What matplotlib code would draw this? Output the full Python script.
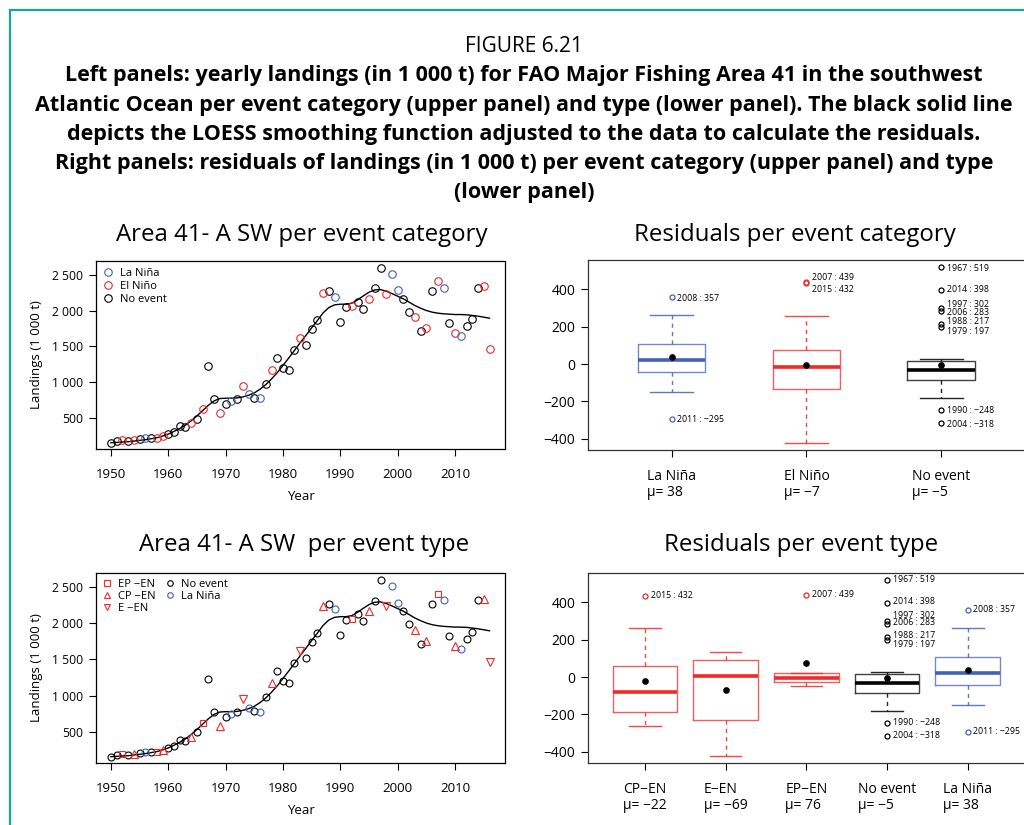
import matplotlib
matplotlib.use("Agg")
import matplotlib.pyplot as plt
from matplotlib.patches import Rectangle
from matplotlib.lines import Line2D

# ---- data (landings in 1 000 t) ----
years = list(range(1950, 2017))
landings = [148, 176, 195, 180, 195, 208, 218, 227, 218, 255,
            283, 306, 384, 380, 430, 495, 625, 1222, 773, 574,
            699, 745, 769, 954, 833, 782, 778, 981, 1171, 1343,
            1204, 1176, 1449, 1616, 1518, 1745, 1861, 2241, 2268, 2190,
            1838, 2046, 2060, 2120, 2028, 2162, 2310, 2597, 2231, 2505,
            2282, 2162, 1981, 1907, 1713, 1750, 2268, 2407, 2319, 1819,
            1685, 1648, 1778, 1875, 2319, 2338, 1467]
# LOESS curve read at each year
loess_fit = [157, 162, 167, 171, 180, 190, 199, 213, 227, 250,
             278, 315, 356, 403, 463, 532, 606, 680, 741, 773,
             778, 778, 782, 796, 819, 852, 903, 967, 1046, 1134,
             1236, 1338, 1444, 1551, 1653, 1759, 1861, 1968, 2042, 2079,
             2088, 2088, 2102, 2148, 2204, 2255, 2287, 2292, 2269, 2236,
             2199, 2162, 2116, 2069, 2032, 2000, 1977, 1963, 1954, 1949,
             1944, 1944, 1940, 1931, 1921, 1907, 1893]

la_nina_years = [1956, 1971, 1974, 1976, 1989, 1999, 2000, 2008, 2011]
ep_en_years = [1952, 1958, 1966, 1992, 2007]
cp_en_years = [1954, 1959, 1964, 1969, 1978, 1987, 1995, 2003, 2005, 2010, 2015]
e_en_years = [1973, 1983, 1998, 2016]
el_nino_years = sorted(ep_en_years + cp_en_years + e_en_years)

# residual box statistics per category
cat_names = ["La Niña", "El Niño", "No event"]
cat_mean = [38, -7, -5]
cat_med = [20, -18, -30]
cat_q1 = [-41, -133, -87]
cat_q3 = [108, 74, 14]
cat_lo = [-149, -422, -181]
cat_hi = [261, 259, 25]
cat_out = [[(2008, 357), (2011, -295)],
           [(2007, 439), (2015, 432)],
           [(1967, 519), (2014, 398), (1997, 302), (2006, 283), (1988, 217),
            (1979, 197), (1990, -248), (2004, -318)]]

type_names = ["CP\u2212EN", "E\u2212EN", "EP\u2212EN", "No event", "La Niña"]
type_mean = [-22, -69, 76, -5, 38]
type_med = [-82, 5, -7, -30, 20]
type_q1 = [-185, -229, -25, -87, -41]
type_q3 = [60, 91, 20, 14, 108]
type_lo = [-260, -420, -46, -181, -149]
type_hi = [261, 135, 20, 25, 261]
type_out = [[(2015, 432)], [], [(2007, 439)],
            [(1967, 519), (2014, 398), (1997, 302), (2006, 283), (1988, 217),
             (1979, 197), (1990, -248), (2004, -318)],
            [(2008, 357), (2011, -295)]]

# where the outlier labels sit (avoid overlaps, as in the original)
cat_label_y = {2008: 350, 2011: -298, 2007: 466, 2015: 399, 1967: 514, 2014: 399,
               1997: 317, 2006: 276, 1988: 228, 1979: 174, 1990: -250, 2004: -326}
type_label_y = {2015: 435, 2007: 444, 1967: 524, 2014: 402, 1997: 331, 2006: 292,
                1988: 220, 1979: 174, 1990: -245, 2004: -311, 2008: 364, 2011: -293}

BLUE = "#4262b5"
RED = "#ee2a2a"
BLACK = "#000000"

W, H = 1024, 825
fig = plt.figure(figsize=(W / 100, H / 100), dpi=100)
plt.rcParams["font.family"] = ["Open Sans", "DejaVu Sans"]


def px(x0, y0, x1, y1):
    return [x0 / W, 1 - y1 / H, (x1 - x0) / W, (y1 - y0) / H]


# teal frame
fig.add_artist(Rectangle((10 / W, -0.1), 1.2, 1 - 10 / H + 0.1, transform=fig.transFigure,
                         fill=False, edgecolor="#1aa59c", linewidth=1.6))

fig.text(524 / W, 1 - 46 / H, "FIGURE 6.21", ha="center", va="center", fontsize=15)
caption = ["Left panels: yearly landings (in 1 000 t) for FAO Major Fishing Area 41 in the southwest",
           "Atlantic Ocean per event category (upper panel) and type (lower panel). The black solid line",
           "depicts the LOESS smoothing function adjusted to the data to calculate the residuals.",
           "Right panels: residuals of landings (in 1 000 t) per event category (upper panel) and type",
           "(lower panel)"]
for i, line in enumerate(caption):
    fig.text(524 / W, 1 - (76 + 29.2 * i) / H, line, ha="center", va="center",
             fontsize=15.5, fontweight="bold")

panel_titles = [("Area 41- A SW per event category", 302, 235),
                ("Residuals per event category", 795, 235),
                ("Area 41- A SW  per event type", 304, 545),
                ("Residuals per event type", 801, 545)]
for t, x, y in panel_titles:
    fig.text(x / W, 1 - y / H, t, ha="center", va="center", fontsize=17.3)


def landings_axes(ax):
    ax.plot(years, loess_fit, color="k", linewidth=1.0, zorder=1)
    ax.set_xlim(1947.4, 2018.7)
    ax.set_ylim(70, 2690)
    ax.set_xticks(range(1950, 2011, 10))
    ax.set_yticks([500, 1000, 1500, 2000, 2500])
    ax.set_yticklabels(["500", "1 000", "1 500", "2 000", "2 500"])
    ax.tick_params(labelsize=8.7, length=5, width=0.8, pad=4)
    ax.tick_params(axis="x", pad=9, labelsize=9.5)
    ax.set_xlabel("Year", fontsize=9.5, labelpad=6)
    ax.set_ylabel("Landings (1 000 t)", fontsize=9.5, labelpad=7)
    for s in ax.spines.values():
        s.set_linewidth(0.9)


def pick(yrs):
    return [y for y in years if y in yrs], [landings[years.index(y)] for y in years if y in yrs]


no_event_years = [y for y in years if y not in la_nina_years and y not in el_nino_years]

# upper left: per event category
ax1 = fig.add_axes(px(96, 261, 505, 449))
landings_axes(ax1)
for yrs, c in [(no_event_years, BLACK), (el_nino_years, RED), (la_nina_years, BLUE)]:
    x, y = pick(yrs)
    ax1.plot(x, y, "o", mfc="none", mec=c, ms=5.4, mew=0.8, linestyle="none", zorder=2)
h1 = [Line2D([], [], marker="o", mfc="none", mec=c, ms=5.4, mew=0.8, linestyle="none")
      for c in (BLUE, RED, BLACK)]
ax1.legend(h1, ["La Niña", "El Niño", "No event"], loc="upper left", frameon=False,
           fontsize=8, handletextpad=0.6, labelspacing=0.2, borderaxespad=0.3,
           handlelength=1.0, borderpad=0.3)

# lower left: per event type
ax3 = fig.add_axes(px(96, 573, 505, 763))
landings_axes(ax3)
x, y = pick(no_event_years)
ax3.plot(x, y, "o", mfc="none", mec=BLACK, ms=5.0, mew=0.8, linestyle="none")
x, y = pick(la_nina_years)
ax3.plot(x, y, "o", mfc="none", mec=BLUE, ms=5.0, mew=0.8, linestyle="none")
for yrs, m, ms in [(ep_en_years, "s", 4.3), (cp_en_years, "^", 5.6), (e_en_years, "v", 5.6)]:
    x, y = pick(yrs)
    ax3.plot(x, y, m, mfc="none", mec=RED, ms=ms, mew=0.8, linestyle="none")
h3 = [Line2D([], [], marker="s", mfc="none", mec=RED, ms=4, mew=0.8, linestyle="none"),
      Line2D([], [], marker="^", mfc="none", mec=RED, ms=5, mew=0.8, linestyle="none"),
      Line2D([], [], marker="v", mfc="none", mec=RED, ms=5, mew=0.8, linestyle="none"),
      Line2D([], [], marker="o", mfc="none", mec=BLACK, ms=4, mew=0.8, linestyle="none"),
      Line2D([], [], marker="o", mfc="none", mec=BLUE, ms=4, mew=0.8, linestyle="none"),
      Line2D([], [], linestyle="none")]
ax3.legend(h3, ["EP \u2212EN", "CP \u2212EN", "E \u2212EN", "No event", "La Niña", ""],
           loc="upper left", frameon=False, ncol=2, fontsize=8, handletextpad=0.5,
           labelspacing=0.12, borderaxespad=0.2, handlelength=1.0, columnspacing=0.8,
           borderpad=0.3)


def residual_axes(ax, names, means, med, q1, q3, lo, hi, outs, colors, width, capw, lab_y, xlim):
    pos = list(range(1, len(names) + 1))
    for i, p in enumerate(pos):
        c = colors[i]
        st = [dict(med=med[i], q1=q1[i], q3=q3[i], whislo=lo[i], whishi=hi[i], fliers=[])]
        ax.bxp(st, positions=[p], widths=width, capwidths=capw, showfliers=False,
               manage_ticks=False,
               boxprops=dict(color=c, linewidth=1.0, alpha=0.75),
               medianprops=dict(color=c, linewidth=2.6, solid_capstyle="butt"),
               whiskerprops=dict(color=c, linewidth=1.0, linestyle=(0, (3, 3)), alpha=0.85),
               capprops=dict(color=c, linewidth=1.0, alpha=0.85))
        ax.plot(p, means[i], "o", color="k", ms=3.8, zorder=5)
        for yr, v in outs[i]:
            ax.plot(p, v, "o", mfc="none", mec=c, ms=3.6, mew=0.9, zorder=4)
            ax.annotate(f"{yr} : {v}".replace("-", "\u2212"), xy=(p, lab_y[yr]), xytext=(4, 0),
                        textcoords="offset points", va="center", ha="left", fontsize=6.3,
                        annotation_clip=False)
    ax.set_xlim(*xlim)
    ax.set_ylim(-460, 557)
    ax.set_yticks([-400, -200, 0, 200, 400])
    ax.set_yticklabels(["\u2212400", "\u2212200", "0", "200", "400"])
    ax.set_xticks(pos)
    ax.set_xticklabels([f"{n}\nμ= {m}".replace("-", "\u2212") for n, m in zip(names, means)],
                       multialignment="left", linespacing=1.05)
    ax.tick_params(labelsize=10, length=5, width=0.8, pad=4)
    ax.tick_params(axis="x", pad=9)
    for s in ax.spines.values():
        s.set_linewidth(0.9)
        s.set_color("#333333")


ax2 = fig.add_axes(px(588, 260, 1040, 450))
residual_axes(ax2, cat_names, cat_mean, cat_med, cat_q1, cat_q3, cat_lo, cat_hi, cat_out,
              [BLUE, RED, BLACK], 0.5, 0.32, cat_label_y, (0.379, 3.734))

ax4 = fig.add_axes(px(588, 573, 1040, 763))
residual_axes(ax4, type_names, type_mean, type_med, type_q1, type_q3, type_lo, type_hi, type_out,
              [RED, RED, RED, BLACK, BLUE], 0.8, 0.39, type_label_y, (0.294, 5.895))

fig.savefig("out.png", dpi=100)
